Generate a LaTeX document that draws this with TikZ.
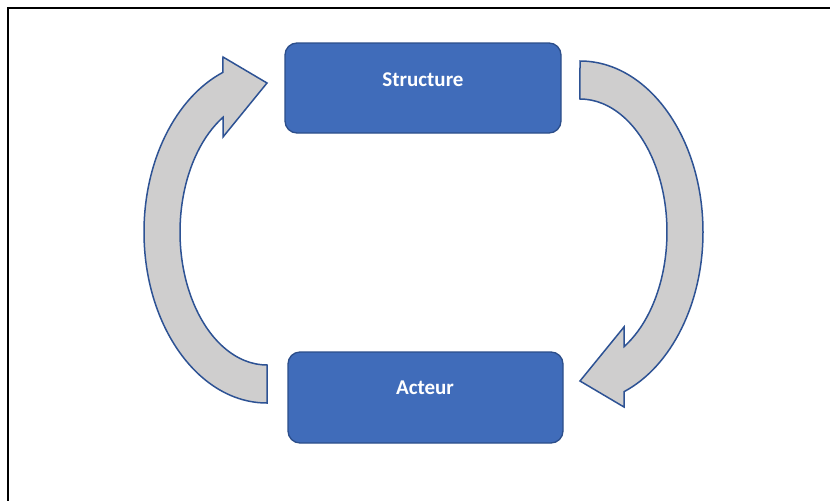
\documentclass[tikz,border=0pt]{standalone}
\usepackage{fontspec}
\setmainfont{Carlito}
\definecolor{boxblue}{RGB}{64,108,186}
\definecolor{boxedge}{RGB}{44,78,138}
\definecolor{arrowgrey}{RGB}{207,206,206}
\definecolor{arrowedge}{RGB}{45,82,148}
\tikzset{
  boxnode/.style={draw=boxedge, line width=1.3pt, fill=boxblue, rounded corners=12pt},
  labelnode/.style={text=white, font=\fontsize{21}{25}\selectfont\bfseries, inner sep=0pt},
  blockarrow/.style={draw=arrowedge, line width=1.5pt, fill=arrowgrey, line join=miter},
  framestyle/.style={draw=black, line width=2.5pt}
}
\begin{document}
\begin{tikzpicture}[x=1pt,y=-1pt]
\useasboundingbox (0,0) rectangle (831,501);
\fill[white] (0,0) rectangle (831,501);
\draw[framestyle] (8,501) -- (8,8) -- (830,8);
% boxes
\draw[boxnode] (285,43) rectangle (561,133);
\node[labelnode] (structure) at (423,80) {Structure};
\draw[boxnode] (288,352) rectangle (563,443);
\node[labelnode] (acteur) at (425,388) {Acteur};
% left curved arrow (Acteur -> Structure)
\draw[blockarrow] (267,403)
  arc[start angle=90, end angle=249, x radius=123, y radius=171]
  -- (223,57) -- (267,83) -- (223,137)
  -- (223,117.3)
  arc[start angle=239.6, end angle=90, x radius=87, y radius=133]
  -- cycle;
% right curved arrow (Structure -> Acteur)
\begin{scope}[rotate around={180:(423.5,232)}]
\draw[blockarrow] (267,403)
  arc[start angle=90, end angle=249, x radius=123, y radius=171]
  -- (223,57) -- (267,83) -- (223,137)
  -- (223,117.3)
  arc[start angle=239.6, end angle=90, x radius=87, y radius=133]
  -- cycle;
\end{scope}
\end{tikzpicture}
\end{document}
